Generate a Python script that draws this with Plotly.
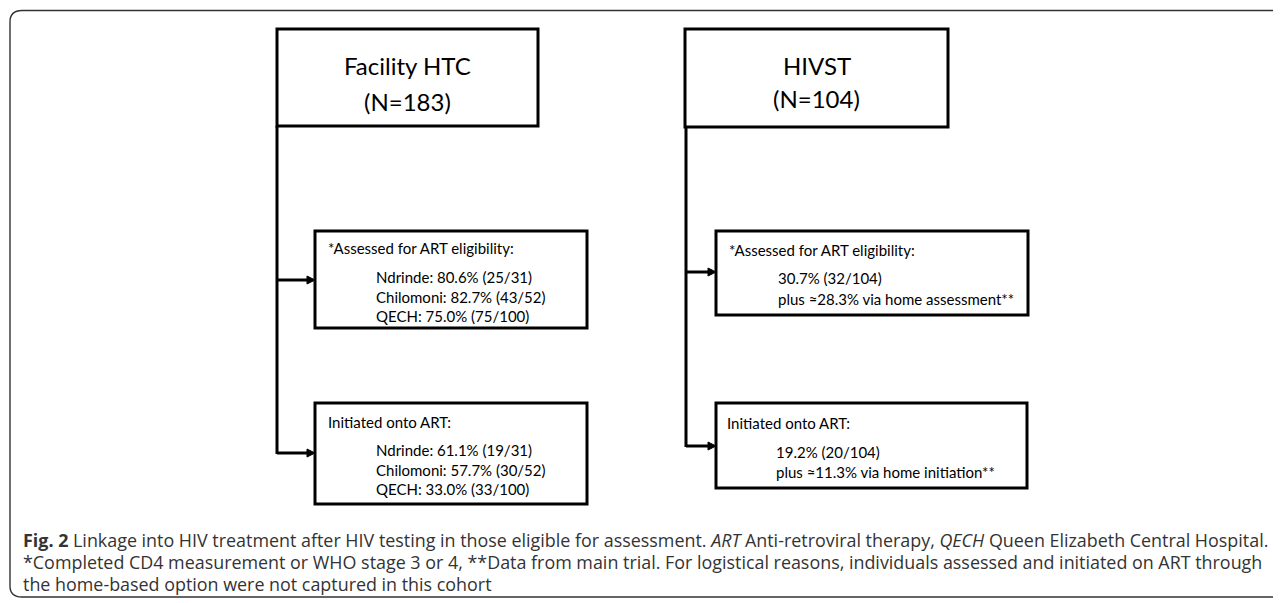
import plotly.graph_objects as go

W, H = 1281, 603
OFF = 8  # page body margin around the plot div

# ---- content (texts) ----
arm_titles = ["Facility HTC", "HIVST"]
arm_n = ["(N=183)", "(N=104)"]
step_titles = ["*Assessed for ART eligibility:", "Initiated onto ART:"]
facility_assessed = ["Ndrinde: 80.6% (25/31)", "Chilomoni: 82.7% (43/52)", "QECH: 75.0% (75/100)"]
facility_initiated = ["Ndrinde: 61.1% (19/31)", "Chilomoni: 57.7% (30/52)", "QECH: 33.0% (33/100)"]
hivst_assessed = ["30.7% (32/104)", "plus \u224828.3% via home assessment**"]
hivst_initiated = ["19.2% (20/104)", "plus \u224811.3% via home initiation**"]
caption_lines = [
    "<b>Fig. 2</b> Linkage into HIV treatment after HIV testing in those eligible for assessment. <i>ART</i> Anti-retroviral therapy, <i>QECH</i> Queen Elizabeth Central Hospital.",
    "*Completed CD4 measurement or WHO stage 3 or 4, **Data from main trial. For logistical reasons, individuals assessed and initiated on ART through",
    "the home-based option were not captured in this cohort",
]

BOX_FONT = "Lato, 'Open Sans', sans-serif"
CAP_FONT = "'Open Sans', sans-serif"
LW = 3

shapes = []
annotations = []

def rect(x0, y0, x1, y1):
    shapes.append(dict(type="rect", xref="x", yref="y", x0=x0, y0=y0, x1=x1, y1=y1,
                       line=dict(color="black", width=LW), fillcolor="white", layer="below"))

def line(x0, y0, x1, y1):
    shapes.append(dict(type="line", xref="x", yref="y", x0=x0, y0=y0, x1=x1, y1=y1,
                       line=dict(color="black", width=LW), layer="below"))

def arrow(x0, y, x1):
    line(x0, y, x1 - 6, y)
    shapes.append(dict(type="path", xref="x", yref="y",
                       path=f"M {x1-8},{y-4} L {x1},{y} L {x1-8},{y+4} Z",
                       fillcolor="black", line=dict(color="black", width=1), layer="below"))

def text(x, y, s, size, anchor="left", font=BOX_FONT, color="black"):
    annotations.append(dict(x=x, y=y, xref="x", yref="y", text=s, showarrow=False,
                            xanchor=anchor, yanchor="middle",
                            font=dict(family=font, size=size, color=color)))

# outer rounded frame
shapes.append(dict(type="path", xref="x", yref="y",
                   path="M 1300,10.5 L 22,10.5 Q 10,10.5 10,22 L 10,586 Q 10,597 22,597 L 1300,597",
                   line=dict(color="#333333", width=1.4), layer="below"))

# --- Facility arm ---
line(277, 126, 277, 454)
arrow(277, 280, 315)
arrow(277, 453, 315)
rect(277, 29, 538, 126)
text(407.5, 65, arm_titles[0], 24, "center")
text(407.5, 101, arm_n[0], 24, "center")

rect(315, 231, 587, 328)
text(326, 248, step_titles[0], 15)
for i, s in enumerate(facility_assessed):
    text(374, 277 + 19.5 * i, s, 15)

rect(315, 403, 587, 504)
text(326, 422, step_titles[1], 15)
for i, s in enumerate(facility_initiated):
    text(374, 450 + 19.5 * i, s, 15)

# --- HIVST arm ---
line(686, 127, 686, 447)
arrow(686, 272, 716)
arrow(686, 446, 716)
rect(685, 29, 948, 127)
text(816.5, 65, arm_titles[1], 24, "center")
text(816.5, 98, arm_n[1], 24, "center")

rect(716, 231, 1028, 315)
text(727, 250, step_titles[0], 15)
for i, s in enumerate(hivst_assessed):
    text(776, 278 + 21 * i, s, 15)

rect(716, 403, 1027, 488)
text(725, 423, step_titles[1], 15)
for i, s in enumerate(hivst_initiated):
    text(774, 452 + 20 * i, s, 15)

# --- caption ---
for i, s in enumerate(caption_lines):
    text(21, 540 + 22 * i, s, 17.9, font=CAP_FONT, color="#333333")

fig = go.Figure()
fig.update_layout(
    width=W - OFF, height=H - OFF,
    margin=dict(l=0, r=0, t=0, b=0),
    paper_bgcolor="white", plot_bgcolor="white",
    xaxis=dict(range=[OFF, W], visible=False, fixedrange=True),
    yaxis=dict(range=[H, OFF], visible=False, fixedrange=True),
    shapes=shapes, annotations=annotations, showlegend=False,
)
fig.write_html("out.html", config={"displayModeBar": False})
